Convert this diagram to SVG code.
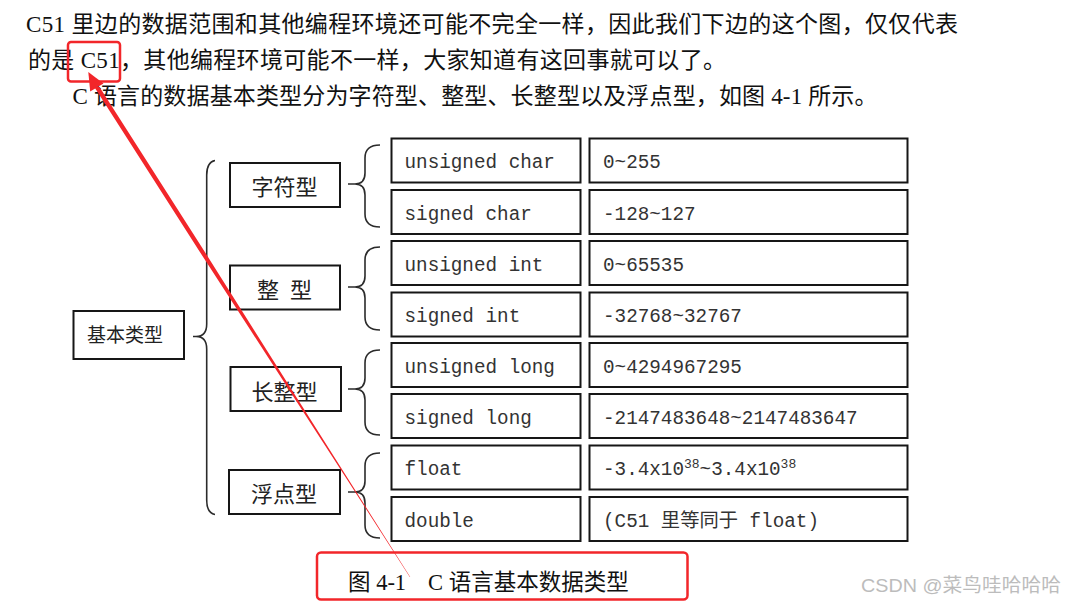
<svg xmlns="http://www.w3.org/2000/svg" width="1066" height="603" viewBox="0 0 1066 603">
<style>
.para{font-family:"Liberation Serif","Noto Sans CJK SC",serif;font-size:23px;fill:#111}
.box{fill:#fff;stroke:#161616;stroke-width:2}
.cat{font-family:"Noto Sans CJK SC","Liberation Sans",sans-serif;font-size:22px;fill:#222;text-anchor:middle}
.base{font-family:"Noto Sans CJK SC","Liberation Sans",sans-serif;font-size:19px;fill:#222;text-anchor:middle}
.mono{font-family:"Liberation Mono","Noto Sans CJK SC",monospace;font-size:19.3px;fill:#333}
.brace{fill:none;stroke:#2b2b2b;stroke-width:1.6}
.red{fill:none;stroke:#f2262a;stroke-width:2.5}
.cap{font-family:"Liberation Serif","Noto Sans CJK SC",serif;font-size:22.5px;fill:#111}
.wm{font-family:"Liberation Sans","Noto Sans CJK SC",sans-serif;font-size:19px;fill:#bcbcbc}
</style>
<rect width="1066" height="603" fill="#fff"/>

<g id="paragraph">
<text class="para" x="26" y="32" textLength="932" lengthAdjust="spacing">C51 里边的数据范围和其他编程环境还可能不完全一样，因此我们下边的这个图，仅仅代表</text>
<text class="para" x="28" y="68" textLength="698" lengthAdjust="spacing">的是 C51，其他编程环境可能不一样，大家知道有这回事就可以了。</text>
<text class="para" x="72.5" y="104" textLength="805" lengthAdjust="spacing">C 语言的数据基本类型分为字符型、整型、长整型以及浮点型，如图 4-1 所示。</text>
</g>

<g id="connectors">
<path class="brace" d="M215,160.5 Q206.7,162 206.7,175 L206.7,324 Q206.7,336.5 196,336.5 L193,336.5 M196,336.5 Q206.7,336.5 206.7,349 L206.7,500 Q206.7,513 215,514.5"/>
<path class="brace" d="M380,145 Q365,145 365,158 L365,173 Q365,184 355,184 L348,184 M355,184 Q365,184 365,195 L365,214 Q365,227 380,227"/>
<path class="brace" d="M380,247 Q365,247 365,260 L365,276 Q365,287 355,287 L348,287 M355,287 Q365,287 365,298 L365,317 Q365,330 380,330"/>
<path class="brace" d="M380,350 Q365,350 365,363 L365,378 Q365,389 355,389 L348,389 M355,389 Q365,389 365,400 L365,422 Q365,435 380,435"/>
<path class="brace" d="M380,453 Q365,453 365,466 L365,481 Q365,492 355,492 L348,492 M355,492 Q365,492 365,503 L365,525 Q365,538 380,538"/>
</g>

<g id="node-base">
<rect class="box" x="73.5" y="311" width="110.5" height="48"/>
<text class="base" x="125" y="341.5">基本类型</text>
</g>

<g id="node-char">
<rect class="box" x="230" y="163" width="110" height="44"/>
<text class="cat" x="284.5" y="195">字符型</text>
</g>
<g id="node-int">
<rect class="box" x="230" y="265.5" width="110" height="44"/>
<text class="cat" x="284.5" y="298" textLength="55" lengthAdjust="spacing">整 型</text>
</g>
<g id="node-long">
<rect class="box" x="230.5" y="367" width="110.5" height="44"/>
<text class="cat" x="284.5" y="399.5">长整型</text>
</g>
<g id="node-float">
<rect class="box" x="229" y="470" width="111" height="44"/>
<text class="cat" x="284" y="502">浮点型</text>
</g>

<g id="node-unsigned-char">
<rect class="box" x="391.5" y="138.5" width="189" height="44"/>
<text class="mono" x="404.5" y="168">unsigned char</text>
</g>
<g id="node-signed-char">
<rect class="box" x="391.5" y="190" width="189" height="44"/>
<text class="mono" x="404.5" y="220">signed char</text>
</g>
<g id="node-unsigned-int">
<rect class="box" x="391.5" y="241" width="189" height="44"/>
<text class="mono" x="404.5" y="270.5">unsigned int</text>
</g>
<g id="node-signed-int">
<rect class="box" x="391.5" y="292.5" width="189" height="44"/>
<text class="mono" x="404.5" y="322">signed int</text>
</g>
<g id="node-unsigned-long">
<rect class="box" x="391.5" y="343" width="189" height="44"/>
<text class="mono" x="404.5" y="372.5">unsigned long</text>
</g>
<g id="node-signed-long">
<rect class="box" x="391.5" y="394" width="189" height="44"/>
<text class="mono" x="404.5" y="424">signed long</text>
</g>
<g id="node-float-type">
<rect class="box" x="391.5" y="445.5" width="189" height="44"/>
<text class="mono" x="404.5" y="475">float</text>
</g>
<g id="node-double">
<rect class="box" x="391.5" y="497" width="189" height="44"/>
<text class="mono" x="404.5" y="527">double</text>
</g>

<g id="node-range-uchar">
<rect class="box" x="589.5" y="138.5" width="318" height="44"/>
<text class="mono" x="603" y="168">0~255</text>
</g>
<g id="node-range-schar">
<rect class="box" x="589.5" y="190" width="318" height="44"/>
<text class="mono" x="603" y="220">-128~127</text>
</g>
<g id="node-range-uint">
<rect class="box" x="589.5" y="241" width="318" height="44"/>
<text class="mono" x="603" y="270.5">0~65535</text>
</g>
<g id="node-range-sint">
<rect class="box" x="589.5" y="292.5" width="318" height="44"/>
<text class="mono" x="603" y="322">-32768~32767</text>
</g>
<g id="node-range-ulong">
<rect class="box" x="589.5" y="343" width="318" height="44"/>
<text class="mono" x="603" y="372.5">0~4294967295</text>
</g>
<g id="node-range-slong">
<rect class="box" x="589.5" y="394" width="318" height="44"/>
<text class="mono" x="603" y="424">-2147483648~2147483647</text>
</g>
<g id="node-range-float">
<rect class="box" x="589.5" y="445.5" width="318" height="44"/>
<text class="mono" x="603" y="475">-3.4x10<tspan font-size="13" dy="-7">38</tspan><tspan dy="7">~3.4x10</tspan><tspan font-size="13" dy="-7">38</tspan></text>
</g>
<g id="node-range-double">
<rect class="box" x="589.5" y="497" width="318" height="44"/>
<text class="mono" x="603" y="527">(C51 里等同于 float)</text>
</g>

<g id="annotation">
<rect class="red" x="68" y="42" width="52" height="39.5" rx="3"/>
<polygon fill="#f2262a" points="94.3,87 198.6,250 250.4,330 295.6,400 347.4,480 409.8,577 410.2,577 348.8,480 298.2,400 254.0,330 203.6,250 99.5,87"/>
<polygon fill="#f2262a" points="88.3,72 103.5,83.5 90.2,91.5"/>
<rect class="red" x="317" y="552.5" width="370.5" height="47" rx="4"/>
</g>

<g id="caption">
<text class="cap" x="348" y="590">图 4-1 <tspan x="428">C 语言基本数据类型</tspan></text>
</g>

<text class="wm" x="861" y="592" textLength="200" lengthAdjust="spacingAndGlyphs">CSDN @菜鸟哇哈哈哈</text>
</svg>
